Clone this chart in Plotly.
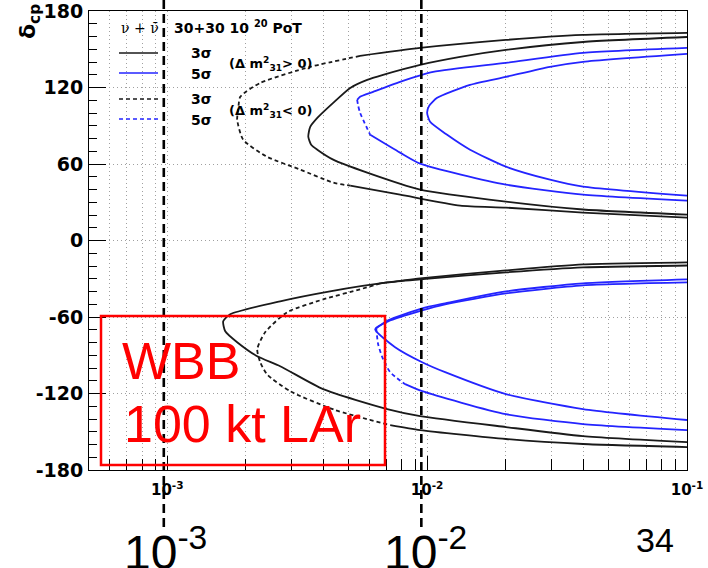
import math
import plotly.graph_objects as go

# ---------------- data (x = sin^2 2theta13, d = delta_CP in degrees) ----------------
# upper half (delta_CP > 0)
pos3_up_x = [0.1, 0.0398, 0.0201, 0.0134, 0.0094, 0.00677, 0.00588, 0.00506, 0.00435, 0.00378,
             0.00355, 0.00349, 0.00358, 0.00378, 0.00435, 0.00588, 0.0094, 0.0201, 0.0398, 0.1]
pos3_up_d = [159.6, 155.7, 149.5, 144.0, 137.7, 129.9, 126.0, 119.7, 108.0, 96.2,
             89.2, 81.4, 75.1, 71.2, 63.4, 53.2, 39.9, 30.5, 24.3, 20.3]

neg3_up_x = [0.1, 0.0398, 0.0201, 0.0094, 0.00552, 0.00355, 0.00228, 0.00191, 0.001875, 0.001858,
             0.00196, 0.00242, 0.00325, 0.00435, 0.00506, 0.00787, 0.0134, 0.0201, 0.0398, 0.1]
neg3_up_d = [162.8, 161.2, 157.3, 151.0, 144.8, 136.2, 123.6, 112.7, 102.5, 94.7,
             79.0, 65.7, 55.6, 45.4, 43.0, 36.0, 27.4, 25.8, 21.9, 18.0]

neg5_up_x = [0.1, 0.0398, 0.0201, 0.01055, 0.00787, 0.0062, 0.00552, 0.00538, 0.00543, 0.00552,
             0.00604, 0.00787, 0.0094, 0.0201, 0.0398, 0.1]
neg5_up_d = [151.0, 147.1, 139.3, 132.2, 124.4, 116.6, 112.7, 110.3, 105.6, 100.2,
             82.9, 68.9, 60.3, 43.8, 36.0, 31.3]

pos5_up_x = [0.1, 0.0398, 0.0297, 0.0201, 0.01463, 0.01093, 0.01018, 0.0100, 0.01027, 0.01194,
             0.01463, 0.0201, 0.0297, 0.0398, 0.1]
pos5_up_d = [146.3, 140.1, 136.2, 128.3, 122.1, 111.9, 105.6, 100.2, 93.1, 82.9,
             71.2, 57.9, 47.7, 42.3, 35.2]

# lower half (delta_CP < 0)
pos3_lo_x = [0.1, 0.0398, 0.0201, 0.0094, 0.00702, 0.00423, 0.00272, 0.001747, 0.001642, 0.001672,
             0.001858, 0.00222, 0.00272, 0.00398, 0.00702, 0.0094, 0.0201, 0.0398, 0.1]
pos3_lo_d = [-19.6, -21.1, -25.0, -30.5, -32.9, -39.9, -47.7, -57.9, -63.4, -71.2,
             -79.8, -90.8, -98.6, -116.6, -132.2, -137.7, -146.3, -153.4, -158.1]

neg3_lo_x = [0.1, 0.0398, 0.0201, 0.0094, 0.0066, 0.00552, 0.00398, 0.00289, 0.00238, 0.00222,
             0.00228, 0.00242, 0.00297, 0.00443, 0.00721, 0.0094, 0.0201, 0.0398, 0.1]
neg3_lo_d = [-17.2, -18.8, -23.5, -29.7, -33.6, -38.3, -46.2, -56.3, -72.0, -85.3,
             -95.5, -104.9, -118.2, -133.0, -144.8, -148.7, -155.7, -159.6, -162.0]

pos5_lo_x = [0.1, 0.0398, 0.0201, 0.01173, 0.00957, 0.00708, 0.00631, 0.00753, 0.00957, 0.01173,
             0.0201, 0.0398, 0.1]
pos5_lo_d = [-32.9, -35.2, -41.5, -50.1, -54.8, -63.4, -69.6, -83.7, -95.5, -103.3,
             -120.5, -132.2, -140.8]

neg5_lo_x = [0.1, 0.0398, 0.0201, 0.01173, 0.00957, 0.00708, 0.00637, 0.00648, 0.00677, 0.00721,
             0.00823, 0.00957, 0.0201, 0.0398, 0.1]
neg5_lo_d = [-30.5, -33.6, -39.9, -49.3, -53.2, -62.6, -68.9, -81.4, -93.1, -103.3,
             -112.7, -118.2, -136.2, -144.0, -148.7]

x_range = [5e-4, 0.1]
y_range = [-180, 180]
x_major = [1e-3, 1e-2, 1e-1]
x_major_text = ["10<sup>-3</sup>", "10<sup>-2</sup>", "10<sup>-1</sup>"]
y_major = [-180, -120, -60, 0, 60, 120, 180]
y_major_text = ["-180", "-120", "-60", "0", "60", "120", "180"]
overlay_x = [0.00097, 0.0095]

# ---------------- style / layout ----------------
W, H = 708, 568
ML, MR, MT, MB = 89, 21, 11, 98
PW, PH = W - ML - MR, H - MT - MB
BLACK = "#1a1a1a"
BLUE = "#2424ff"
LW = 1.8
DASH = "4px,3px"


def pxp(x):
    return (x - ML) / PW


def pyp(y):
    return (H - MB - y) / PH


lx0, lx1 = math.log10(x_range[0]), math.log10(x_range[1])


def xdata_to_paper(v):
    return (math.log10(v) - lx0) / (lx1 - lx0)


fig = go.Figure()


def add_curve(xs, ys, color, dash_span=None):
    if dash_span is None:
        fig.add_trace(go.Scatter(x=xs, y=ys, mode="lines", line=dict(color=color, width=LW, shape="spline", smoothing=0.6),
                                 showlegend=False, hoverinfo="skip"))
        return
    i0, i1 = dash_span
    parts = [(0, i0 + 1, "solid"), (i0, i1 + 1, DASH), (i1, len(xs), "solid")]
    for a, b, d in parts:
        fig.add_trace(go.Scatter(x=xs[a:b], y=ys[a:b], mode="lines",
                                 line=dict(color=color, width=LW, dash=d, shape="spline", smoothing=0.6),
                                 showlegend=False, hoverinfo="skip"))


add_curve(pos3_up_x, pos3_up_d, BLACK)
add_curve(neg3_up_x, neg3_up_d, BLACK, (4, 14))
add_curve(pos5_up_x, pos5_up_d, BLUE)
add_curve(neg5_up_x, neg5_up_d, BLUE, (7, 10))
add_curve(pos3_lo_x, pos3_lo_d, BLACK)
add_curve(neg3_lo_x, neg3_lo_d, BLACK, (4, 14))
add_curve(pos5_lo_x, pos5_lo_d, BLUE)
add_curve(neg5_lo_x, neg5_lo_d, BLUE, (6, 10))

# minor tick positions on the log axis
x_minor = []
for e in range(-4, -1):
    for k in range(2, 10):
        v = k * 10 ** e
        if x_range[0] <= v <= x_range[1] * 1.0001:
            x_minor.append(v)
y_minor = list(range(-170, 180, 10))

GRID = dict(gridcolor="#a0a0a0", gridwidth=1, griddash="1px,3px")
fig.update_xaxes(type="log", range=[lx0, lx1], tickmode="array", tickvals=x_major, ticktext=x_major_text,
                 ticks="inside", ticklen=14, tickwidth=1, tickcolor="black",
                 showline=True, linecolor="black", linewidth=1, mirror=True, zeroline=False,
                 showgrid=True, **GRID,
                 tickfont=dict(family="DejaVu Sans", size=15, color="black", weight="bold"),
                 ticklabelstandoff=6, ticklabeloverflow="allow",
                 minor=dict(tickmode="array", tickvals=x_minor, ticks="inside", ticklen=11, tickcolor="black",
                            showgrid=True, **GRID))
fig.update_yaxes(range=y_range, tickmode="array", tickvals=y_major, ticktext=y_major_text,
                 ticks="inside", ticklen=17, tickwidth=1, tickcolor="black",
                 showline=True, linecolor="black", linewidth=1, mirror=True, zeroline=False,
                 showgrid=True, **GRID,
                 tickfont=dict(family="DejaVu Sans", size=19, color="black", weight="bold"),
                 ticklabelstandoff=1, ticklabeloverflow="allow",
                 minor=dict(tickmode="array", tickvals=y_minor, ticks="inside", ticklen=8, tickcolor="black",
                            showgrid=False))

shapes = []
# overlay dashed vertical lines from the slide
for xv in overlay_x:
    xp = xdata_to_paper(xv)
    shapes.append(dict(type="line", xref="paper", yref="paper", x0=xp, x1=xp, y0=pyp(0), y1=pyp(532),
                       line=dict(color="black", width=2.6, dash="9px,5px")))
# red box
shapes.append(dict(type="rect", xref="paper", yref="paper", x0=pxp(101), x1=pxp(385), y0=pyp(465), y1=pyp(316),
                   line=dict(color="#ff0000", width=2.5), fillcolor="rgba(0,0,0,0)"))
# legend line samples
for yy, col, d in [(53, BLACK, "solid"), (73, BLUE, "solid"), (99, BLACK, DASH), (119, BLUE, DASH)]:
    shapes.append(dict(type="line", xref="paper", yref="paper", x0=pxp(119), x1=pxp(158), y0=pyp(yy), y1=pyp(yy),
                       line=dict(color=col, width=1.6, dash=d)))

anns = []


def ann(text, x, y, size, color="black", family="DejaVu Sans", weight="bold", xanchor="left", yanchor="middle", angle=0):
    anns.append(dict(text=text, x=pxp(x), y=pyp(y), xref="paper", yref="paper", showarrow=False,
                     xanchor=xanchor, yanchor=yanchor, textangle=angle,
                     font=dict(family=family, size=size, color=color, weight=weight)))


ann("ν + ν̄", 119, 28, 14, family="DejaVu Serif", weight="normal")
ann("30+30 10 <sup>20</sup> PoT", 172, 27, 14)
ann("3σ", 189, 53, 14)
ann("5σ", 189, 74, 14)
ann("3σ", 189, 99, 14)
ann("5σ", 189, 120, 14)
ann("(Δ m<sup>2</sup><sub>31</sub>> 0)", 227, 64, 13)
ann("(Δ m<sup>2</sup><sub>31</sub>< 0)", 227, 111, 13)
ann("δ<sub>cp</sub>", 30, 22, 22, family="DejaVu Sans", weight="bold", xanchor="center", angle=-90)
ann("WBB", 120, 361, 52, color="#ff0000", family="Liberation Sans", weight="normal")
ann("100 kt LAr", 122, 424, 52, color="#ff0000", family="Liberation Sans", weight="normal")
ann("10<sup>-3</sup>", 122, 549, 48, family="Liberation Sans", weight="normal")
ann("10<sup>-2</sup>", 382, 549, 48, family="Liberation Sans", weight="normal")
ann("34", 655, 540, 34, family="Liberation Sans", weight="normal", xanchor="center")

fig.update_layout(width=W, height=H, margin=dict(l=ML, r=MR, t=MT, b=MB, autoexpand=False),
                  paper_bgcolor="white", plot_bgcolor="white", showlegend=False,
                  shapes=shapes, annotations=anns)

fig.write_html("out.html", config={"displayModeBar": False},
               post_script="document.body.style.margin='0';document.body.style.overflow='hidden';")
